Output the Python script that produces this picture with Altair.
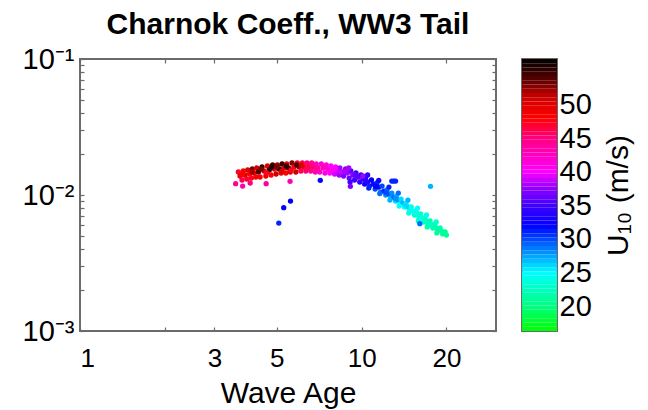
import altair as alt
import numpy as np
import pandas as pd

# ---------------- data ----------------
band_wave_age = [
    3.65, 3.70, 3.76, 3.80, 3.85, 3.91, 3.94, 4.00, 4.06, 4.09, 4.15, 4.21,
    4.24, 4.30, 4.36, 4.43, 4.50, 4.57, 4.63, 4.70, 4.77, 4.83, 4.90, 4.97,
    5.02, 5.10, 5.18, 5.22, 5.30, 5.38, 5.42, 5.50, 5.58, 5.66, 5.75, 5.84,
    5.91, 6.00, 6.09, 6.16, 6.25, 6.34, 6.40, 6.50, 6.60, 6.65, 6.75, 6.85,
    6.90, 7.00, 7.10, 7.19, 7.30, 7.41, 7.49, 7.60, 7.71, 7.78, 7.90, 8.02,
    8.08, 8.20, 8.32, 8.37, 8.50, 8.63, 8.77, 8.90, 9.03, 9.16, 9.30, 9.44,
    9.55, 9.70, 9.85, 9.95, 10.1, 10.25, 10.34, 10.5, 10.66, 10.84, 11.0, 11.17,
    11.33, 11.5, 11.67, 11.82, 12.0, 12.18, 12.31, 12.5, 12.69, 12.8, 13.0, 13.2,
    13.3, 13.5, 13.7, 13.8, 14.0, 14.2, 14.4, 14.6, 14.8, 15.0, 15.2, 15.4,
    15.6, 15.8, 16.0, 16.2, 16.4, 16.6, 16.8, 17.0, 17.2, 17.5, 17.7, 17.9,
    18.2, 18.4, 18.6, 19.0, 19.2, 19.4, 19.8, 20.0,
]
band_charnock = [
    0.01476, 0.01379, 0.01289, 0.01501, 0.01403, 0.01311, 0.01527, 0.01427, 0.01333,
    0.01553, 0.01451, 0.01356, 0.01580, 0.01476, 0.01356, 0.01607, 0.01501, 0.01379,
    0.01634, 0.01527, 0.01403, 0.01662, 0.01553, 0.01427, 0.01662, 0.01553, 0.01451,
    0.01690, 0.01580, 0.01451, 0.01690, 0.01580, 0.01476, 0.01719, 0.01607, 0.01476,
    0.01719, 0.01607, 0.01501, 0.01719, 0.01607, 0.01501, 0.01719, 0.01607, 0.01501,
    0.01719, 0.01607, 0.01476, 0.01690, 0.01580, 0.01476, 0.01690, 0.01580, 0.01451,
    0.01662, 0.01553, 0.01451, 0.01634, 0.01527, 0.01427, 0.01607, 0.01501, 0.01403,
    0.01580, 0.01476, 0.01379, 0.01553, 0.01451, 0.01333, 0.01501, 0.01403, 0.01289,
    0.01451, 0.01356, 0.01246, 0.01403, 0.01311, 0.01204, 0.01356, 0.01246, 0.01164,
    0.01289, 0.01204, 0.01106, 0.01225, 0.01144, 0.01051, 0.01164, 0.01069, 0.00999,
    0.01088, 0.01016, 0.00949, 0.01033, 0.00965, 0.00903, 0.00982, 0.00918, 0.00859,
    0.00933, 0.00873, 0.00816, 0.00873, 0.00816, 0.00763, 0.00816, 0.00763, 0.00713,
    0.00763, 0.00725, 0.00678, 0.00725, 0.00678, 0.00633, 0.00678, 0.00644, 0.00602,
    0.00644, 0.00602, 0.00572, 0.00612, 0.00572, 0.00544, 0.00572, 0.00544, 0.00517,
    0.00535, 0.00508,
]
band_u10 = [
    47, 49, 46, 48, 50, 47, 50, 48, 47, 53, 49, 48, 51, 54, 48, 55, 50, 49,
    50, 55, 48, 54, 49, 51, 52, 56, 49, 55, 50, 48, 49, 54, 50, 53, 48, 51,
    47, 52, 46, 46, 49, 45, 45, 47, 44, 44, 46, 43, 43, 44, 42, 42, 43, 41,
    41, 42, 40, 40, 41, 39, 40, 39, 38, 38, 39, 37, 37, 38, 36, 36, 37, 35,
    35, 36, 34, 34, 35, 33, 33, 34, 31, 32, 33, 30, 31, 32, 29, 30, 31, 28,
    29, 30, 27, 28, 29, 26, 27, 28, 25, 26, 27, 25, 25, 26, 24, 24, 25, 23,
    24, 24, 23, 23, 24, 22, 23, 23, 22, 22, 23, 22, 22, 22, 21, 22, 21, 21,
    21, 21,
]

fill_wave_age = [3.78, 4.08, 4.40, 4.60, 4.80, 5.0, 5.2, 5.4, 5.62, 5.88, 6.12, 6.38,
                 6.62, 6.9, 7.45, 8.05, 8.7, 9.5, 10.3, 11.2, 12.2, 13.2, 14.3, 15.5,
                 16.7, 18.0, 19.6]
fill_charnock = [0.01427, 0.01476, 0.01553, 0.01456, 0.01607, 0.01607, 0.01500, 0.01634,
                 0.01530, 0.01662, 0.01662, 0.01553, 0.01662, 0.01553, 0.01610, 0.01560,
                 0.01500, 0.01400, 0.01300, 0.01160, 0.01040, 0.00940, 0.00845, 0.00740,
                 0.00655, 0.00590, 0.00530]
fill_u10 = [48, 52, 53, 47, 56, 53, 50, 55, 47, 54, 50, 46, 45, 44, 42, 40, 38, 36, 34,
            32, 30, 28, 26, 24, 23, 22, 21]

edge_wave_age = [9.0, 9.1, 10.5, 10.6, 11.5, 11.6, 12.5, 12.6, 13.5, 13.6, 14.6, 14.7,
                 15.8, 15.9, 17.0, 17.1, 18.4, 18.5]
edge_charnock = [0.01580, 0.01246, 0.01403, 0.01125, 0.01278, 0.01025, 0.01144, 0.00918,
                 0.01033, 0.00830, 0.00918, 0.00737, 0.00802, 0.00644, 0.00713, 0.00582,
                 0.00633, 0.00526]
edge_u10 = [38, 35, 34, 31, 33, 29, 31, 27, 29, 25, 27, 24, 25, 23, 24, 22, 23, 21]

out_wave_age = [3.57, 3.78, 4.02, 4.58, 5.57, 7.13, 9.12, 10.1, 12.8, 13.0, 13.2, 17.56,
                16.09, 5.08, 5.29, 5.59]
out_charnock = [0.01211, 0.01164, 0.01225, 0.01211, 0.01260, 0.01283, 0.01158, 0.01379,
                0.01267, 0.01267, 0.01267, 0.01158, 0.00615, 0.00622, 0.00807, 0.00903]
out_u10 = [44, 43, 45, 44, 43, 32, 37, 38, 31, 31, 31, 27, 29, 31, 32, 32]

x_tick_values = [1, 2, 3, 5, 10, 20]
y_label_values = [0.001, 0.01, 0.1]
y_tick_values = [0.001, 0.002, 0.003, 0.004, 0.005, 0.006, 0.007, 0.008, 0.009,
                 0.01, 0.02, 0.03, 0.04, 0.05, 0.06, 0.07, 0.08, 0.09, 0.1]
cbar_tick_values = [20, 25, 30, 35, 40, 45, 50]
cbar_limits = [16.3, 56.8]
cmap_stops = [16.3, 20, 25, 28, 32, 35, 37.5, 40, 45, 48, 51, 54, 56.8]
cmap_colors = ["#00ff00", "#00ff80", "#00ffff", "#0090ff", "#0000ff", "#4000ff",
               "#9000ff", "#ff00ff", "#ff0080", "#ff0000", "#d00000", "#500000", "#000000"]

# ---------------- tables ----------------
df = pd.DataFrame({
    "wa": band_wave_age + fill_wave_age + edge_wave_age + out_wave_age,
    "c": band_charnock + fill_charnock + edge_charnock + out_charnock,
    "u": band_u10 + fill_u10 + edge_u10 + out_u10,
})
edges = np.linspace(cbar_limits[0], cbar_limits[1], 65)
cb_df = pd.DataFrame({"lo": edges[:-1], "hi": edges[1:], "mid": (edges[:-1] + edges[1:]) / 2})

FONT = "Liberation Sans"
GRAY = "#6b6b6b"
W, H = 416, 272
CBW = 35

color_scale = alt.Scale(domain=cmap_stops, range=cmap_colors, interpolate="rgb")
xscale = alt.Scale(type="log", domain=[1, 30], nice=False)
yscale = alt.Scale(type="log", domain=[0.001, 0.1], nice=False)
cscale = alt.Scale(domain=cbar_limits, nice=False, zero=False)


def tick_axis(orient, offset, values, size=4, color=GRAY):
    return alt.Axis(orient=orient, offset=offset, values=values, labels=False,
                    domain=False, grid=False, ticks=True, tickSize=size,
                    tickColor=color, tickWidth=1.2, title=None)


points = alt.Chart(df).mark_circle(size=28, opacity=1).encode(
    x=alt.X("wa:Q", scale=xscale, axis=alt.Axis(
        orient="bottom", values=x_tick_values,
        labelExpr="datum.value == 2 ? '' : toString(datum.value)",
        ticks=False, tickSize=0, domain=False, grid=False,
        labelFontSize=26, labelPadding=14, labelOverlap=False,
        title="Wave Age", titleFontSize=30, titlePadding=7)),
    y=alt.Y("c:Q", scale=yscale, axis=alt.Axis(
        orient="left", values=y_label_values,
        labelExpr="datum.value > 0.05 ? '10\u207b\u00b9' : (datum.value > 0.005 ? '10\u207b\u00b2' : '10\u207b\u00b3')",
        ticks=False, tickSize=0, domain=False, grid=False,
        labelFontSize=29, labelPadding=6, labelOverlap=False, title=None)),
    color=alt.Color("u:Q", scale=color_scale, legend=None),
)

ticks_a = alt.Chart(df).mark_circle(opacity=0, size=1).encode(
    x=alt.X("wa:Q", scale=xscale, axis=tick_axis("top", -H, x_tick_values)),
    y=alt.Y("c:Q", scale=yscale, axis=tick_axis("right", -W, y_tick_values)),
)
ticks_b = alt.Chart(df).mark_circle(opacity=0, size=1).encode(
    x=alt.X("wa:Q", scale=xscale, axis=tick_axis("bottom", -H, x_tick_values)),
    y=alt.Y("c:Q", scale=yscale, axis=tick_axis("left", -W, y_tick_values)),
)

main = alt.layer(points, ticks_a, ticks_b).resolve_axis(
    x="independent", y="independent"
).properties(
    width=W, height=H,
    title=alt.TitleParams("Charnok Coeff., WW3 Tail", fontSize=30, fontWeight="bold",
                          anchor="middle", frame="group", baseline="alphabetic",
                          offset=-19, color="black", font=FONT),
)

cbar = alt.Chart(cb_df).mark_rect().encode(
    y=alt.Y("lo:Q", scale=cscale,
            axis=alt.Axis(orient="right", values=cbar_tick_values, ticks=False, tickSize=0,
                          domain=False, grid=False, labelFontSize=29, labelPadding=2,
                          labelOverlap=False, title="U\u2081\u2080 (m/s)", titleAngle=270,
                          titleBaseline="top", titleFontSize=30, titlePadding=12)),
    y2="hi:Q",
    color=alt.Color("mid:Q", scale=color_scale, legend=None),
).properties(width=CBW, height=H)

chart = alt.hconcat(main, cbar, spacing=26, bounds="flush").properties(
    padding={"left": 21, "top": 9, "right": 4, "bottom": 0}
).configure_view(
    stroke=GRAY, strokeWidth=2
).configure_axis(
    labelFont=FONT, titleFont=FONT, labelColor="black", titleColor="black",
    titleFontWeight="normal"
).configure_title(font=FONT)

chart.save("out.html", embed_options={"renderer": "svg", "actions": False})
